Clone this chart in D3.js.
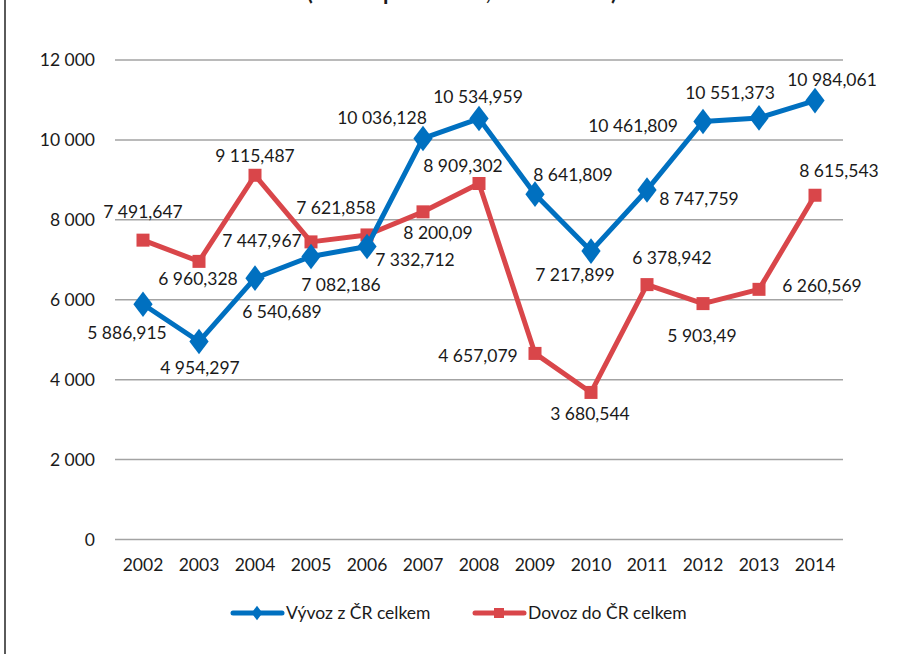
<!DOCTYPE html>
<meta charset="utf-8">
<style>
body, html {
  padding: 0;
  margin: 0;
  background: #fff;
}
text {
  font-family: Lato, "Open Sans", sans-serif;
  fill: #1a1a1a;
}
.grid line {
  stroke: #a3a3a3;
  stroke-width: 1.5px;
}
</style>
<body>
<script src="https://d3js.org/d3.v7.min.js"></script>
<script>

var width = 914,
    height = 654

var years = ["2002", "2003", "2004", "2005", "2006", "2007", "2008",
             "2009", "2010", "2011", "2012", "2013", "2014"]

var vyvoz = [5886.915, 4954.297, 6540.689, 7082.186, 7332.712, 10036.128, 10534.959,
             8641.809, 7217.899, 8747.759, 10461.809, 10551.373, 10984.061]

var dovoz = [7491.647, 6960.328, 9115.487, 7447.967, 7621.858, 8200.09, 8909.302,
             4657.079, 3680.544, 6378.942, 5903.49, 6260.569, 8615.543]

var yTicks = [0, 2000, 4000, 6000, 8000, 10000, 12000]

var seriesNames = ["Vývoz z ČR celkem", "Dovoz do ČR celkem"]

// where Excel put each data label, relative to its point
var vyvozLabelOffset = [[-16, 29], [1, 26], [27, 34], [30, 28], [48, 13], [-41, -21], [-1, -22],
                        [38, -19], [-16, 24], [52, 9], [-70, 4], [-29, -25], [17, -21]]
var dovozLabelOffset = [[0, -28], [-1, 17], [0, -19], [-49, -1], [-31, -27], [15, 21], [-16, -18],
                        [-57, 2], [-1, 21], [25, -27], [-1, 32], [63, -3], [24, -24]]

var blue = "#0070c0",
    red = "#d9464a"

var cz = d3.formatLocale({decimal: ",", thousands: "\u00a0", grouping: [3], currency: ["", " Kč"]})
var fmtTick = cz.format(",.0f"),
    fmtLabel = cz.format(",.3~f")

var x = d3.scalePoint()
    .domain(years)
    .range([115, 843])
    .padding(0.5)

var y = d3.scaleLinear()
    .domain([0, 12000])
    .range([539.5, 60])

var svg = d3.select("body").append("svg")
    .attr("width", width)
    .attr("height", height)

// frame edge on the left
svg.append("line")
    .attr("x1", 5).attr("x2", 5)
    .attr("y1", 0).attr("y2", height)
    .attr("stroke", "#5a5a5a")
    .attr("stroke-width", 2)

// title, cut off at the top like in the source (only descenders show)
svg.append("text")
    .attr("x", 462)
    .attr("y", 0)
    .attr("text-anchor", "middle")
    .style("font-size", "22px")
    .style("font-weight", "bold")
    .text("(mil. Kč podle ČSÚ, 2002–2014)")

var grid = svg.append("g").attr("class", "grid")

grid.selectAll("line")
    .data(yTicks)
    .enter().append("line")
    .attr("x1", 115)
    .attr("x2", 843)
    .attr("y1", function(d) { return y(d) })
    .attr("y2", function(d) { return y(d) })

svg.append("g").selectAll("text")
    .data(yTicks)
    .enter().append("text")
    .attr("x", 95)
    .attr("y", function(d) { return y(d) })
    .attr("dy", "0.35em")
    .attr("text-anchor", "end")
    .style("font-size", "17.5px")
    .text(fmtTick)

svg.append("g").selectAll("text")
    .data(years)
    .enter().append("text")
    .attr("x", function(d) { return x(d) })
    .attr("y", 565)
    .attr("dy", "0.35em")
    .attr("text-anchor", "middle")
    .style("font-size", "17.5px")
    .text(function(d) { return d })

var line = d3.line()
    .x(function(d, i) { return x(years[i]) })
    .y(function(d) { return y(d) })

var diamond = d3.symbol().type(d3.symbolDiamond).size(190)

function drawSeries (values, color, marker) {
    var g = svg.append("g")
    g.append("path")
        .attr("d", line(values))
        .attr("fill", "none")
        .attr("stroke", color)
        .attr("stroke-width", 5)
        .attr("stroke-linejoin", "round")
    var m = g.selectAll(".m")
        .data(values)
        .enter()
    if (marker === "diamond") {
        m.append("path")
            .attr("d", diamond)
            .attr("transform", function(d, i) {
                return "translate(" + x(years[i]) + "," + y(d) + ") scale(1.3,1)"
            })
            .attr("fill", color)
    } else {
        m.append("rect")
            .attr("x", function(d, i) { return x(years[i]) - 6.5 })
            .attr("y", function(d) { return y(d) - 6.5 })
            .attr("width", 13)
            .attr("height", 13)
            .attr("fill", color)
    }
}

function drawLabels (values, offsets) {
    svg.append("g").selectAll("text")
        .data(values)
        .enter().append("text")
        .attr("x", function(d, i) { return x(years[i]) + offsets[i][0] })
        .attr("y", function(d, i) { return y(d) + offsets[i][1] })
        .attr("dy", "0.35em")
        .attr("text-anchor", "middle")
        .style("font-size", "17.5px")
        .text(fmtLabel)
}

drawSeries(dovoz, red, "square")
drawSeries(vyvoz, blue, "diamond")
drawLabels(vyvoz, vyvozLabelOffset)
drawLabels(dovoz, dovozLabelOffset)

// legend
var legend = svg.append("g")
var legendItems = [
    {name: seriesNames[0], color: blue, marker: "diamond", x: 231},
    {name: seriesNames[1], color: red, marker: "square", x: 473}
]

legendItems.forEach(function (it) {
    var g = legend.append("g").attr("transform", "translate(" + it.x + ",613)")
    g.append("line")
        .attr("x1", 2).attr("x2", 51)
        .attr("stroke", it.color)
        .attr("stroke-width", 5)
        .attr("stroke-linecap", "round")
    if (it.marker === "diamond") {
        g.append("path")
            .attr("d", d3.symbol().type(d3.symbolDiamond).size(60))
            .attr("transform", "translate(26,0) scale(1.3,1)")
            .attr("fill", it.color)
    } else {
        g.append("rect")
            .attr("x", 21).attr("y", -5)
            .attr("width", 10).attr("height", 10)
            .attr("fill", it.color)
    }
    g.append("text")
        .attr("x", 55)
        .attr("dy", "0.35em")
        .style("font-size", "17.5px")
        .text(it.name)
})

</script>
</body>
